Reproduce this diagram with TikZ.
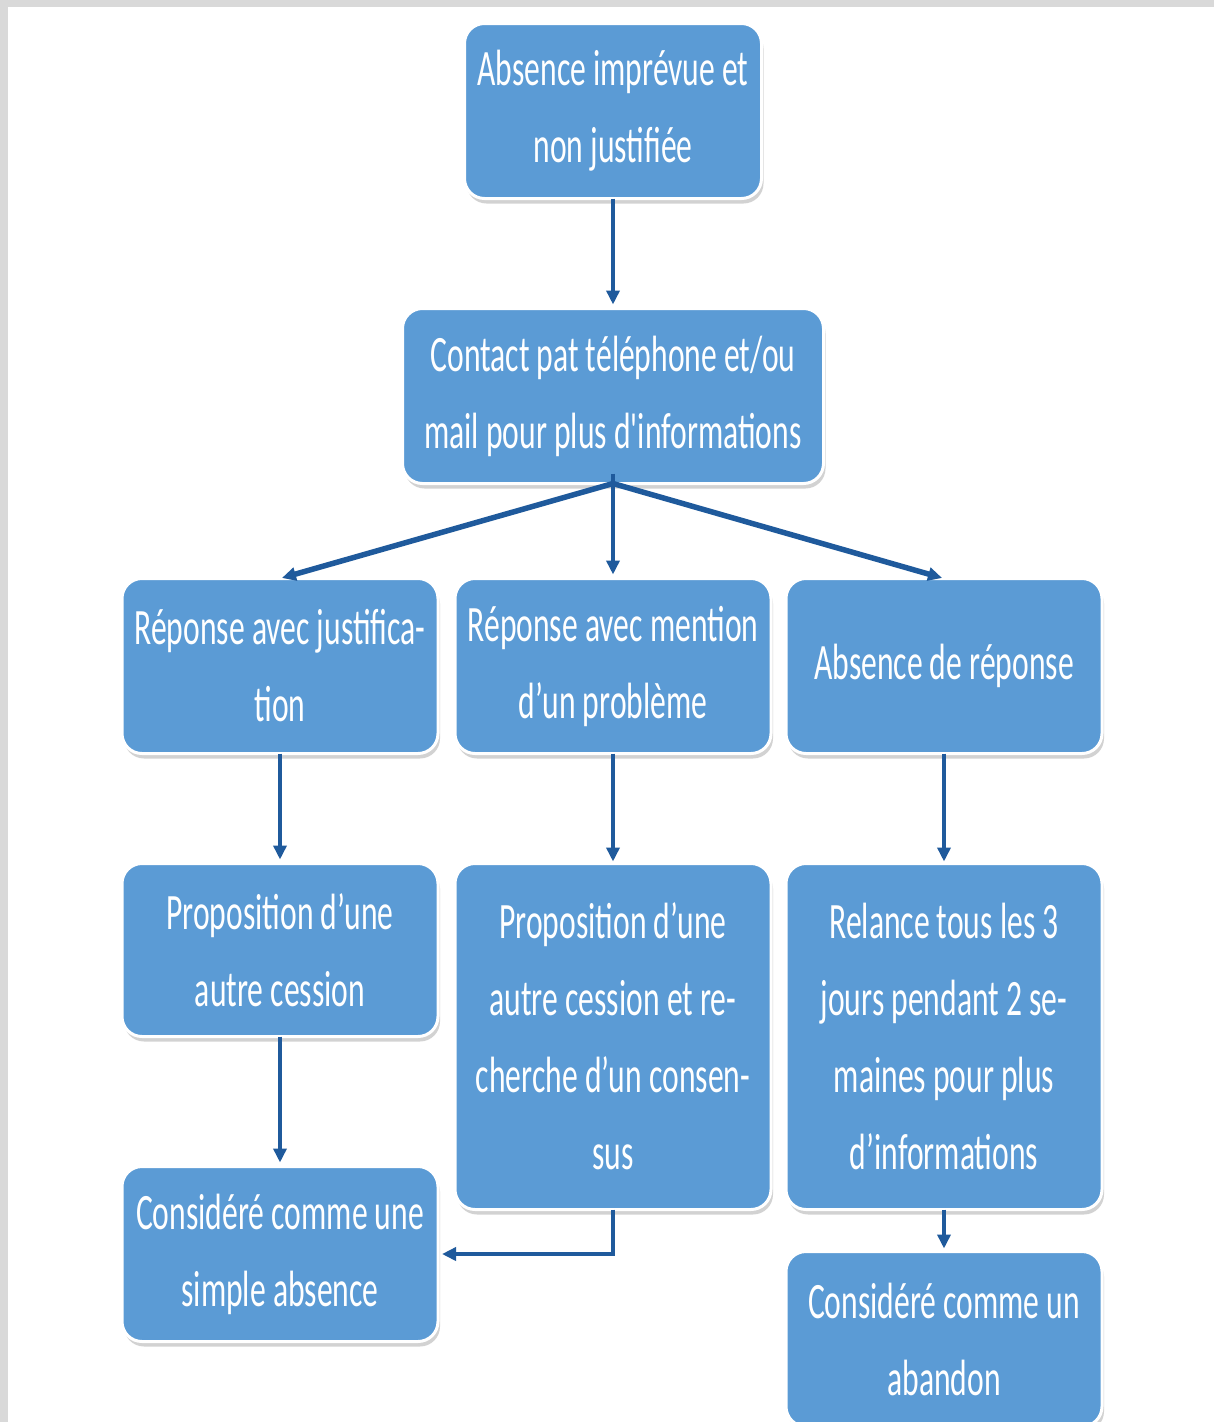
\documentclass[tikz,border=0pt]{standalone}
\usepackage{fontspec}
\setmainfont{Carlito}[FakeStretch=0.62, Ligatures=TeXOff]
\usepackage{xcolor}
\definecolor{boxBlue}{HTML}{5B9BD5}
\definecolor{arrowDark}{HTML}{1F5A9C}
\definecolor{frameGray}{HTML}{D9D9D9}
\usetikzlibrary{positioning,arrows.meta,shadows}
\tikzset{%
  stageBox/.style={%
    rectangle,
    rounded corners=20pt,
    draw=white,
    line width=3pt,
    fill=boxBlue,
    text=white,
    font=\fontsize{51}{77}\selectfont,
    align=center,
    inner sep=0pt,
    outer sep=0pt,
    minimum width=316pt,
    minimum height=175pt,
    drop shadow={shadow xshift=2pt, shadow yshift=-5pt, fill=black!35}
  },
  flowArrow/.style={%
    -{Triangle[length=14pt,width=13pt]},
    line width=4.5pt,
    color=arrowDark
  }
}

\begin{document}
\begin{tikzpicture}
    \fill[frameGray] (0,0) rectangle (1214pt,-1422pt);
    \fill[white] (8pt,-7pt) rectangle (1214pt,-1422pt);
    \useasboundingbox (0,0) rectangle (1214pt,-1422pt);

    \node[stageBox, minimum width=297pt] (absence) at (613pt,-111pt) {Absence imprévue et\\non justifiée};
    \node[stageBox, minimum width=421pt, below=110pt of absence] (contact) {Contact pat téléphone et/ou\\mail pour plus d'informations};

    \node[stageBox, below=95pt of contact] (mention) {Réponse avec mention\\d’un problème};
    \node[stageBox, left=17pt of mention] (justif) {Réponse avec justifica-\\tion};
    \node[stageBox, right=15pt of mention] (noreponse) {Absence de réponse};

    \node[stageBox, minimum height=173pt, below=110pt of justif] (propo) {Proposition d’une\\autre cession};
    \node[stageBox, minimum height=346pt, below=110pt of mention] (proporech) {Proposition d’une\\autre cession et re-\\cherche d’un consen-\\sus};
    \node[stageBox, minimum height=346pt, below=110pt of noreponse] (relance) {Relance tous les 3\\jours pendant 2 se-\\maines pour plus\\d’informations};

    \node[stageBox, below=130pt of propo] (simple) {Considéré comme une\\simple absence};
    \node[stageBox, below=42pt of relance] (abandon) {Considéré comme un\\abandon};

    \draw[flowArrow, shorten >=4pt] (absence.south) -- (contact.north);
    \draw[flowArrow, line width=5.5pt, shorten >=2pt] (contact.south) -- (justif.north);
    \draw[flowArrow, shorten >=4pt] ([yshift=10pt]contact.south) -- (mention.north);
    \draw[flowArrow, line width=5.5pt, shorten >=2pt] (contact.south) -- (noreponse.north);

    \draw[flowArrow, shorten >=4pt] (justif.south) -- (propo.north);
    \draw[flowArrow, shorten >=2pt] (mention.south) -- (proporech.north);
    \draw[flowArrow, shorten >=2pt] (noreponse.south) -- (relance.north);
    \draw[flowArrow, shorten >=4pt] (propo.south) -- (simple.north);
    \draw[flowArrow, shorten >=3pt] (relance.south) -- (abandon.north);
    \draw[flowArrow, shorten >=4pt] (proporech.south) |- (simple.east);
\end{tikzpicture}
\end{document}
